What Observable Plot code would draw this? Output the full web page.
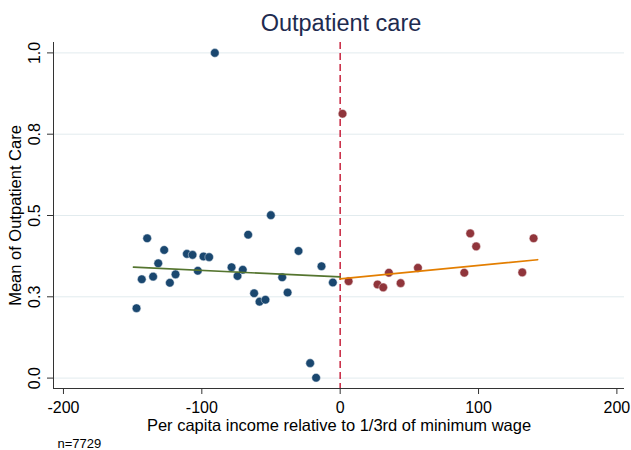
<!DOCTYPE html>
<html><head><meta charset="utf-8">
<script src="https://cdn.jsdelivr.net/npm/d3@7"></script>
<script src="https://cdn.jsdelivr.net/npm/@observablehq/plot@0.6"></script>
<style>body{margin:0;background:#fff;}</style>
</head><body><div id="chart"></div>
<script>
// Bin means below the cutoff (blue)
const belowX = [-147.2,-143.4,-139.5,-135.2,-131.5,-127.2,-123.1,-119.0,-110.8,-106.7,-102.9,-98.8,-94.7,-90.6,-78.5,-74.2,-70.4,-66.5,-62.2,-58.3,-54.0,-50.1,-41.9,-38.0,-30.1,-21.7,-17.4,-13.5,-5.3];
const belowY = [0.215,0.304,0.430,0.312,0.353,0.394,0.293,0.319,0.382,0.379,0.330,0.374,0.372,1.000,0.341,0.314,0.333,0.441,0.261,0.235,0.241,0.501,0.310,0.263,0.391,0.046,0.001,0.344,0.294];
// Bin means above the cutoff (red)
const aboveX = [1.7,6.1,27.0,31.1,35.2,43.7,56.2,89.7,94.0,98.3,131.6,139.8];
const aboveY = [0.813,0.298,0.288,0.279,0.324,0.292,0.339,0.324,0.445,0.405,0.325,0.430];
// Linear fit lines (fitted values at range ends)
const fitBelowX = [-149.4, 0];
const fitBelowY = [0.341, 0.311];
const fitAboveX = [0, 142.7];
const fitAboveY = [0.305, 0.364];
// Axis ticks
const xTicks = [-200, -100, 0, 100, 200];
const xTickLabels = ["-200", "-100", "0", "100", "200"];
const yTicks = [0, 0.25, 0.5, 0.75, 1];
const yTickLabels = ["0.0", "0.3", "0.5", "0.8", "1.0"];
const cutoff = [0];
const titleText = "Outpatient care";
const xLabel = "Per capita income relative to 1/3rd of minimum wage";
const yLabel = "Mean of Outpatient Care";
const note = "n=7729";

const xDomain = [-207.2, 205.5];
const yDomain = [-0.032, 1.032];

const below = belowX.map((x, i) => ({x, y: belowY[i]}));
const above = aboveX.map((x, i) => ({x, y: aboveY[i]}));
const fitBelow = fitBelowX.map((x, i) => ({x, y: fitBelowY[i]}));
const fitAbove = fitAboveX.map((x, i) => ({x, y: fitAboveY[i]}));

const mid = {textAnchor: "middle", lineAnchor: "middle"};

const chart = Plot.plot({
  width: 631, height: 450,
  marginLeft: 53, marginRight: 7, marginTop: 42, marginBottom: 62,
  x: {domain: xDomain},
  y: {domain: yDomain},
  style: {fontFamily: "'Liberation Sans', Arial, sans-serif", fontSize: "16px", color: "#000", background: "#fff"},
  marks: [
    Plot.gridY({ticks: yTicks, stroke: "#e2ebee", strokeOpacity: 1, strokeWidth: 1}),
    Plot.ruleX(cutoff, {stroke: "#c8243f", strokeWidth: 1.5, strokeDasharray: "7,4"}),
    Plot.ruleX([xDomain[0]], {stroke: "#333", strokeWidth: 1}),
    Plot.ruleY([yDomain[0]], {stroke: "#333", strokeWidth: 1}),
    Plot.axisX({ticks: xTicks, tickSize: 6, tickFormat: () => "", label: null, stroke: "#333"}),
    Plot.axisY({ticks: yTicks, tickSize: 6, tickFormat: () => "", label: null, stroke: "#333"}),
    Plot.text(xTicks, {x: d => d, text: (d, i) => xTickLabels[i], frameAnchor: "bottom", dy: 18.9, fontSize: 16, ...mid}),
    Plot.text(yTicks, {y: d => d, text: (d, i) => yTickLabels[i], frameAnchor: "left", dx: -18.5, rotate: -90, fontSize: 16, ...mid}),
    Plot.dot(below, {x: "x", y: "y", r: 4.3, fill: "#1a476f", stroke: "#dfe6ee", strokeWidth: 0.5}),
    Plot.dot(above, {x: "x", y: "y", r: 4.3, fill: "#90353b", stroke: "#eedfe0", strokeWidth: 0.5}),
    Plot.line(fitBelow, {x: "x", y: "y", stroke: "#55752f", strokeWidth: 1.7}),
    Plot.line(fitAbove, {x: "x", y: "y", stroke: "#e37e00", strokeWidth: 1.7}),
    Plot.text([titleText], {text: d => d, frameAnchor: "top", dx: 2, dy: -19, fontSize: 23.5, fill: "#1e2b4f", ...mid}),
    Plot.text([xLabel], {text: d => d, frameAnchor: "bottom", dy: 37.1, fontSize: 16.5, ...mid}),
    Plot.text([yLabel], {text: d => d, frameAnchor: "left", dx: -37.5, rotate: -90, fontSize: 16.5, ...mid}),
    Plot.text([note], {text: d => d, frameAnchor: "bottom-left", textAnchor: "start", lineAnchor: "middle", dx: 4, dy: 55.5, fontSize: 13})
  ]
});
document.getElementById("chart").appendChild(chart);
</script>
</body></html>
